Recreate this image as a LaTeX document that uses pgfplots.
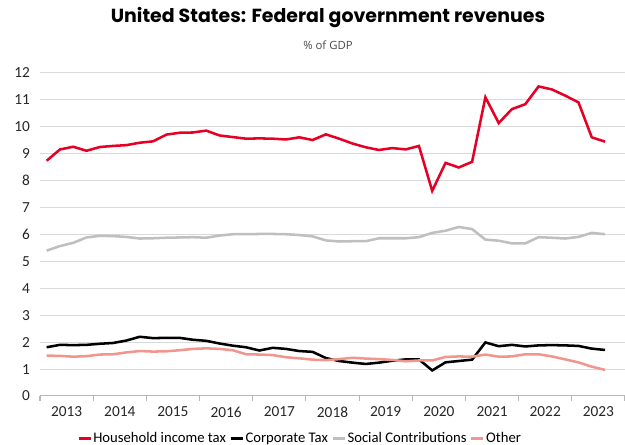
\documentclass[border=0pt]{standalone}
\usepackage{pgfplots}
\pgfplotsset{compat=1.18}
\usepackage{pgfplotstable}
\usepackage{fontspec}
\setmainfont{Carlito}
\newfontfamily\titlefont{Poppins}
\newfontfamily\subfont{Open Sans}
\definecolor{cred}{RGB}{230,0,38}
\definecolor{cgray}{RGB}{191,191,191}
\definecolor{cpink}{RGB}{241,150,142}
\definecolor{gridc}{RGB}{217,217,217}
\pgfplotstableread{
k hh corp soc oth
0 8.74 1.81 5.40 1.50
1 9.16 1.90 5.57 1.49
2 9.26 1.89 5.69 1.46
3 9.11 1.90 5.89 1.48
4 9.25 1.94 5.95 1.54
5 9.29 1.97 5.94 1.55
6 9.32 2.06 5.91 1.62
7 9.41 2.20 5.85 1.67
8 9.46 2.15 5.86 1.65
9 9.71 2.16 5.88 1.66
10 9.78 2.16 5.89 1.70
11 9.79 2.09 5.90 1.75
12 9.86 2.05 5.88 1.77
13 9.68 1.95 5.96 1.75
14 9.62 1.87 6.01 1.70
15 9.56 1.81 6.01 1.55
16 9.57 1.69 6.02 1.54
17 9.56 1.79 6.02 1.52
18 9.53 1.75 6.01 1.44
19 9.61 1.67 5.98 1.40
20 9.51 1.64 5.93 1.35
21 9.72 1.41 5.78 1.33
22 9.56 1.30 5.74 1.37
23 9.38 1.24 5.75 1.42
24 9.24 1.19 5.75 1.39
25 9.14 1.24 5.86 1.37
26 9.21 1.31 5.86 1.34
27 9.16 1.36 5.86 1.29
28 9.29 1.36 5.90 1.32
29 7.62 0.95 6.06 1.32
30 8.66 1.25 6.14 1.45
31 8.49 1.30 6.28 1.47
32 8.70 1.35 6.20 1.46
33 11.10 1.99 5.81 1.54
34 10.14 1.85 5.77 1.46
35 10.66 1.90 5.67 1.47
36 10.84 1.84 5.67 1.55
37 11.50 1.88 5.90 1.55
38 11.39 1.89 5.88 1.47
39 11.16 1.88 5.85 1.36
40 10.91 1.86 5.91 1.25
41 9.61 1.76 6.06 1.09
42 9.45 1.71 6.01 0.97
}\datatable
\begin{document}
\begin{tikzpicture}
\useasboundingbox (-30pt,-36.75pt) rectangle (438.75pt,297pt);
\node[font=\titlefont\bfseries\fontsize{14.2}{16}\selectfont] at (216pt,283.5pt) {United States: Federal government revenues};
\node[font=\subfont\fontsize{8.5}{10}\selectfont, text=black!70] at (216pt,263.25pt) {\% of GDP};
\begin{axis}[
  at={(0,0)}, anchor=south west,
  scale only axis, width=438.75pt, height=242.25pt,
  xmin=-0.5, xmax=43.5, ymin=0, ymax=12,
  ytick={0,1,...,12},
  ymajorgrids, grid style={gridc, line width=0.75pt},
  axis x line*=bottom, axis y line*=left,
  y axis line style={draw=none},
  x axis line style={draw=gridc!85!black, line width=0.75pt},
  xtick={1.5,5.5,...,41.5},
  xticklabels={2013,2014,2015,2016,2017,2018,2019,2020,2021,2022,2023},
  minor xtick={-0.5,3.5,...,43.5},
  major x tick style={draw=none},
  minor x tick style={draw=gridc!85!black, line width=0.75pt},
  ytick style={draw=none},
  tick align=outside,
  minor tick length=3.75pt,
  major tick length=0pt,
  /pgf/number format/assume math mode=true,
  tick label style={font=\fontsize{11.5}{13}\selectfont, text=black!85},
  yticklabel style={xshift=-4pt},
  xticklabel style={yshift=-4.5pt},
  legend style={at={(0.445,-0.132)}, anchor=center, draw=none, fill=none,
     font=\fontsize{11}{13}\selectfont, legend columns=4,
     /tikz/every even column/.append style={column sep=0.5pt},
     /tikz/every odd column/.append style={column sep=-1pt},
     inner sep=0pt},
  legend image code/.code={\draw[#1, line width=2.2pt] (0pt,0pt) -- (9pt,0pt);},
  clip=false,
]
\addplot[cred, line width=1.9pt] table[x=k, y=hh] {\datatable};
\addlegendentry{Household income tax}
\addplot[black, line width=1.9pt] table[x=k, y=corp] {\datatable};
\addlegendentry{Corporate Tax}
\addplot[cgray, line width=1.9pt] table[x=k, y=soc] {\datatable};
\addlegendentry{Social Contributions}
\addplot[cpink, line width=1.9pt] table[x=k, y=oth] {\datatable};
\addlegendentry{Other}
\end{axis}
\end{tikzpicture}
\end{document}
